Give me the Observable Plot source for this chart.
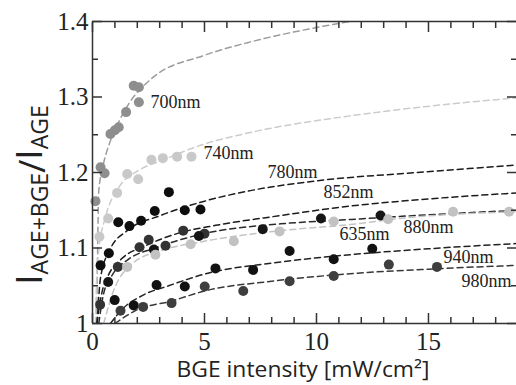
<!DOCTYPE html>
<html>
<head>
<meta charset="utf-8">
<script src="https://cdn.jsdelivr.net/npm/d3@7"></script>
<script src="https://cdn.jsdelivr.net/npm/@observablehq/plot@0.6"></script>
<style>
html, body { margin: 0; padding: 0; background: #fff; overflow: hidden; }
#chart { width: 516px; height: 385px; }
</style>
</head>
<body>
<div id="chart"></div>
<script>
// ---- data ----
const seriesNames = ["700nm", "740nm", "780nm", "852nm", "880nm", "635nm", "940nm", "980nm"];

const pts700 = [[0.13,1.162],[0.36,1.207],[0.54,1.199],[0.80,1.251],[1.00,1.256],[1.17,1.260],[1.50,1.280],[1.84,1.315],[2.07,1.313],[2.07,1.293]];
const pts740 = [[0.31,1.115],[0.70,1.139],[1.10,1.173],[1.55,1.198],[2.04,1.191],[2.63,1.217],[3.14,1.219],[3.78,1.221],[4.42,1.221]];
const pts780 = [[0.36,1.077],[0.73,1.093],[1.15,1.134],[1.65,1.129],[2.17,1.136],[2.78,1.149],[3.41,1.174],[4.12,1.150],[4.82,1.151]];
const pts852 = [[0.34,1.025],[1.13,1.075],[2.10,1.101],[2.51,1.111],[3.26,1.103],[4.05,1.123],[5.00,1.119]];
const pts880 = [[0.70,1.055],[2.74,1.098],[4.75,1.116],[7.60,1.125],[10.20,1.139],[12.86,1.143]];
const pts635 = [[1.55,1.075],[2.81,1.091],[4.38,1.105],[6.31,1.109],[8.35,1.122],[10.77,1.135],[13.20,1.138],[16.10,1.148],[18.60,1.148]];
const pts940 = [[0.99,1.031],[1.84,1.024],[2.86,1.051],[4.12,1.049],[5.49,1.073],[7.17,1.071],[8.80,1.096],[10.77,1.085],[12.49,1.099]];
const pts980 = [[1.25,1.017],[2.26,1.022],[3.53,1.027],[5.01,1.049],[6.73,1.043],[8.80,1.056],[10.77,1.063],[13.23,1.078],[15.38,1.075]];

// dashed fit curves
const fit700 = [[0.18,1.0],[0.22,1.08],[0.28,1.176],[0.43,1.203],[0.8,1.242],[1.17,1.267],[1.62,1.291],[2.66,1.325],[4.97,1.355],[7.05,1.373],[10,1.392],[11.5,1.40]];
const fit740 = [[0.13,1.0],[0.2,1.07],[0.28,1.097],[0.58,1.141],[1.17,1.18],[2.07,1.203],[3.1,1.216],[4.82,1.236],[7.05,1.253],[11.5,1.275],[15.4,1.289],[19,1.299]];
const fit780 = [[0.21,1.0],[0.36,1.061],[0.8,1.099],[1.55,1.123],[3.04,1.143],[5.0,1.162],[7.05,1.176],[10,1.189],[14.5,1.200],[19,1.210]];
const fit852 = [[0.19,1.0],[0.42,1.041],[0.71,1.064],[1.31,1.086],[2.37,1.103],[4.0,1.121],[5.5,1.13],[8.4,1.143],[11.07,1.154],[15,1.165],[19,1.173]];
const fit880 = [[0.28,1.0],[0.5,1.04],[0.9,1.065],[1.6,1.085],[2.8,1.1],[4.82,1.118],[8.4,1.132],[11.07,1.137],[15,1.144],[19,1.15]];
const fit635 = [[0.5,1.0],[0.95,1.044],[1.77,1.079],[3.1,1.097],[4.82,1.108],[8.4,1.123],[11.5,1.131],[14,1.14],[19,1.148]];
const fit940 = [[0.8,1.0],[1.33,1.019],[2.22,1.037],[3.4,1.05],[5.2,1.067],[8,1.08],[11.07,1.09],[15,1.099],[19,1.106]];
const fit980 = [[1.0,1.0],[1.4,1.008],[1.92,1.017],[3.56,1.03],[5.0,1.043],[8,1.056],[11.07,1.065],[15,1.072],[19,1.077]];

// series label anchors (data units)
const labelX = [2.59, 4.96, 7.81, 10.31, 13.88, 11.03, 15.67, 16.47];
const labelY = [1.2925, 1.2249, 1.1997, 1.1732, 1.1269, 1.1176, 1.0872, 1.0554];

const yTicks = [1, 1.1, 1.2, 1.3, 1.4];
const yMinor = [1.05, 1.15, 1.25, 1.35];
const xTicks = [0, 5, 10, 15];
const xMinor = [1,2,3,4,6,7,8,9,11,12,13,14,16,17,18];

const xTitle = "BGE intensity [mW/cm\u00B2]";

// ---- styles ----
const pointSets = [pts700, pts740, pts780, pts852, pts880, pts635, pts940, pts980];
const fitSets = [fit700, fit740, fit780, fit852, fit880, fit635, fit940, fit980];
const dotColors = ["#8e8e8e", "#c9c9c9", "#0e0e0e", "#333333", "#161616", "#c2c2c2", "#121212", "#3e3e3e"];
const lineColors = ["#9c9c9c", "#cccccc", "#1c1c1c", "#1c1c1c", "#2a2a2a", "#c4c4c4", "#222222", "#383838"];

const serif = "Liberation Serif, Times New Roman, serif";
const sans = "Open Sans, Noto Sans, sans-serif";

const W = 516, H = 385, mT = 21, mR = 0, mB = 62, mL = 92;
const major = 10, minor = 6;

const marks = [];
fitSets.forEach((f, i) => {
  marks.push(Plot.line(f, {x: d => d[0], y: d => d[1], stroke: lineColors[i], strokeWidth: 1.5, strokeDasharray: "6,4", curve: "monotone-x", clip: true}));
});
pointSets.forEach((p, i) => {
  marks.push(Plot.dot(p, {x: d => d[0], y: d => d[1], r: 5, fill: dotColors[i], stroke: "none"}));
});
marks.push(Plot.text(seriesNames, {x: (d, i) => labelX[i], y: (d, i) => labelY[i], text: d => d, textAnchor: "start", fontSize: 18, fontFamily: serif, fill: "#222"}));

// frame lines
const ink = "#333";
marks.push(Plot.ruleX([0], {stroke: ink, strokeWidth: 1.5}));
marks.push(Plot.ruleY([1], {stroke: ink, strokeWidth: 1.5}));
marks.push(Plot.ruleY([1.4], {stroke: ink, strokeWidth: 1.5}));

// inward ticks on all four sides (outward ticks shifted inside)
const tk = {stroke: ink, strokeWidth: 1.5, tickFormat: () => "", label: null};
marks.push(Plot.axisY(yTicks, {anchor: "left", tickSize: major, dx: major, ...tk}));
marks.push(Plot.axisY(yMinor, {anchor: "left", tickSize: minor, dx: minor, ...tk}));
marks.push(Plot.axisY(yTicks, {anchor: "right", tickSize: major, dx: -major, ...tk}));
marks.push(Plot.axisY(yMinor, {anchor: "right", tickSize: minor, dx: -minor, ...tk}));
marks.push(Plot.axisX(xTicks, {anchor: "bottom", tickSize: major, dy: -major, ...tk}));
marks.push(Plot.axisX(xMinor, {anchor: "bottom", tickSize: minor, dy: -minor, ...tk}));
marks.push(Plot.axisX(xTicks, {anchor: "top", tickSize: major, dy: major, ...tk}));
marks.push(Plot.axisX(xMinor, {anchor: "top", tickSize: minor, dy: minor, ...tk}));

// tick labels
marks.push(Plot.text(yTicks, {x: 0, y: d => d, text: d => d === 1 ? "1" : d.toFixed(1), textAnchor: "end", dx: -4, fontSize: 25, fontFamily: serif, fill: "#222"}));
marks.push(Plot.text(xTicks, {x: d => d, y: 1, text: d => String(d), lineAnchor: "top", dy: 9, fontSize: 25, fontFamily: serif, fill: "#222"}));

const chart = Plot.plot({
  width: W,
  height: H,
  marginTop: mT,
  marginRight: mR,
  marginBottom: mB,
  marginLeft: mL,
  x: {domain: [0, 18.93]},
  y: {domain: [1, 1.4]},
  style: {background: "#fff", overflow: "visible"},
  marks
});

const svg = d3.select(chart);
// x-axis title
svg.append("text")
  .attr("x", 303).attr("y", 377)
  .attr("text-anchor", "middle")
  .attr("font-family", sans).attr("font-size", 21).attr("fill", "#222")
  .attr("textLength", 253).attr("lengthAdjust", "spacingAndGlyphs")
  .text(xTitle);

// y-axis title: I_{AGE+BGE}/I_{AGE}
const yt = svg.append("text")
  .attr("transform", "translate(42,195) rotate(-90)")
  .attr("text-anchor", "middle")
  .attr("font-family", sans).attr("fill", "#222");
yt.append("tspan").attr("font-size", 37).text("I");
yt.append("tspan").attr("font-size", 23).attr("dy", 6).text("AGE+BGE");
yt.append("tspan").attr("font-size", 36).attr("dy", -3).text("/");
yt.append("tspan").attr("font-size", 37).attr("dy", -3).text("I");
yt.append("tspan").attr("font-size", 23).attr("dy", 6).text("AGE");

document.getElementById("chart").appendChild(chart);
</script>
</body>
</html>
